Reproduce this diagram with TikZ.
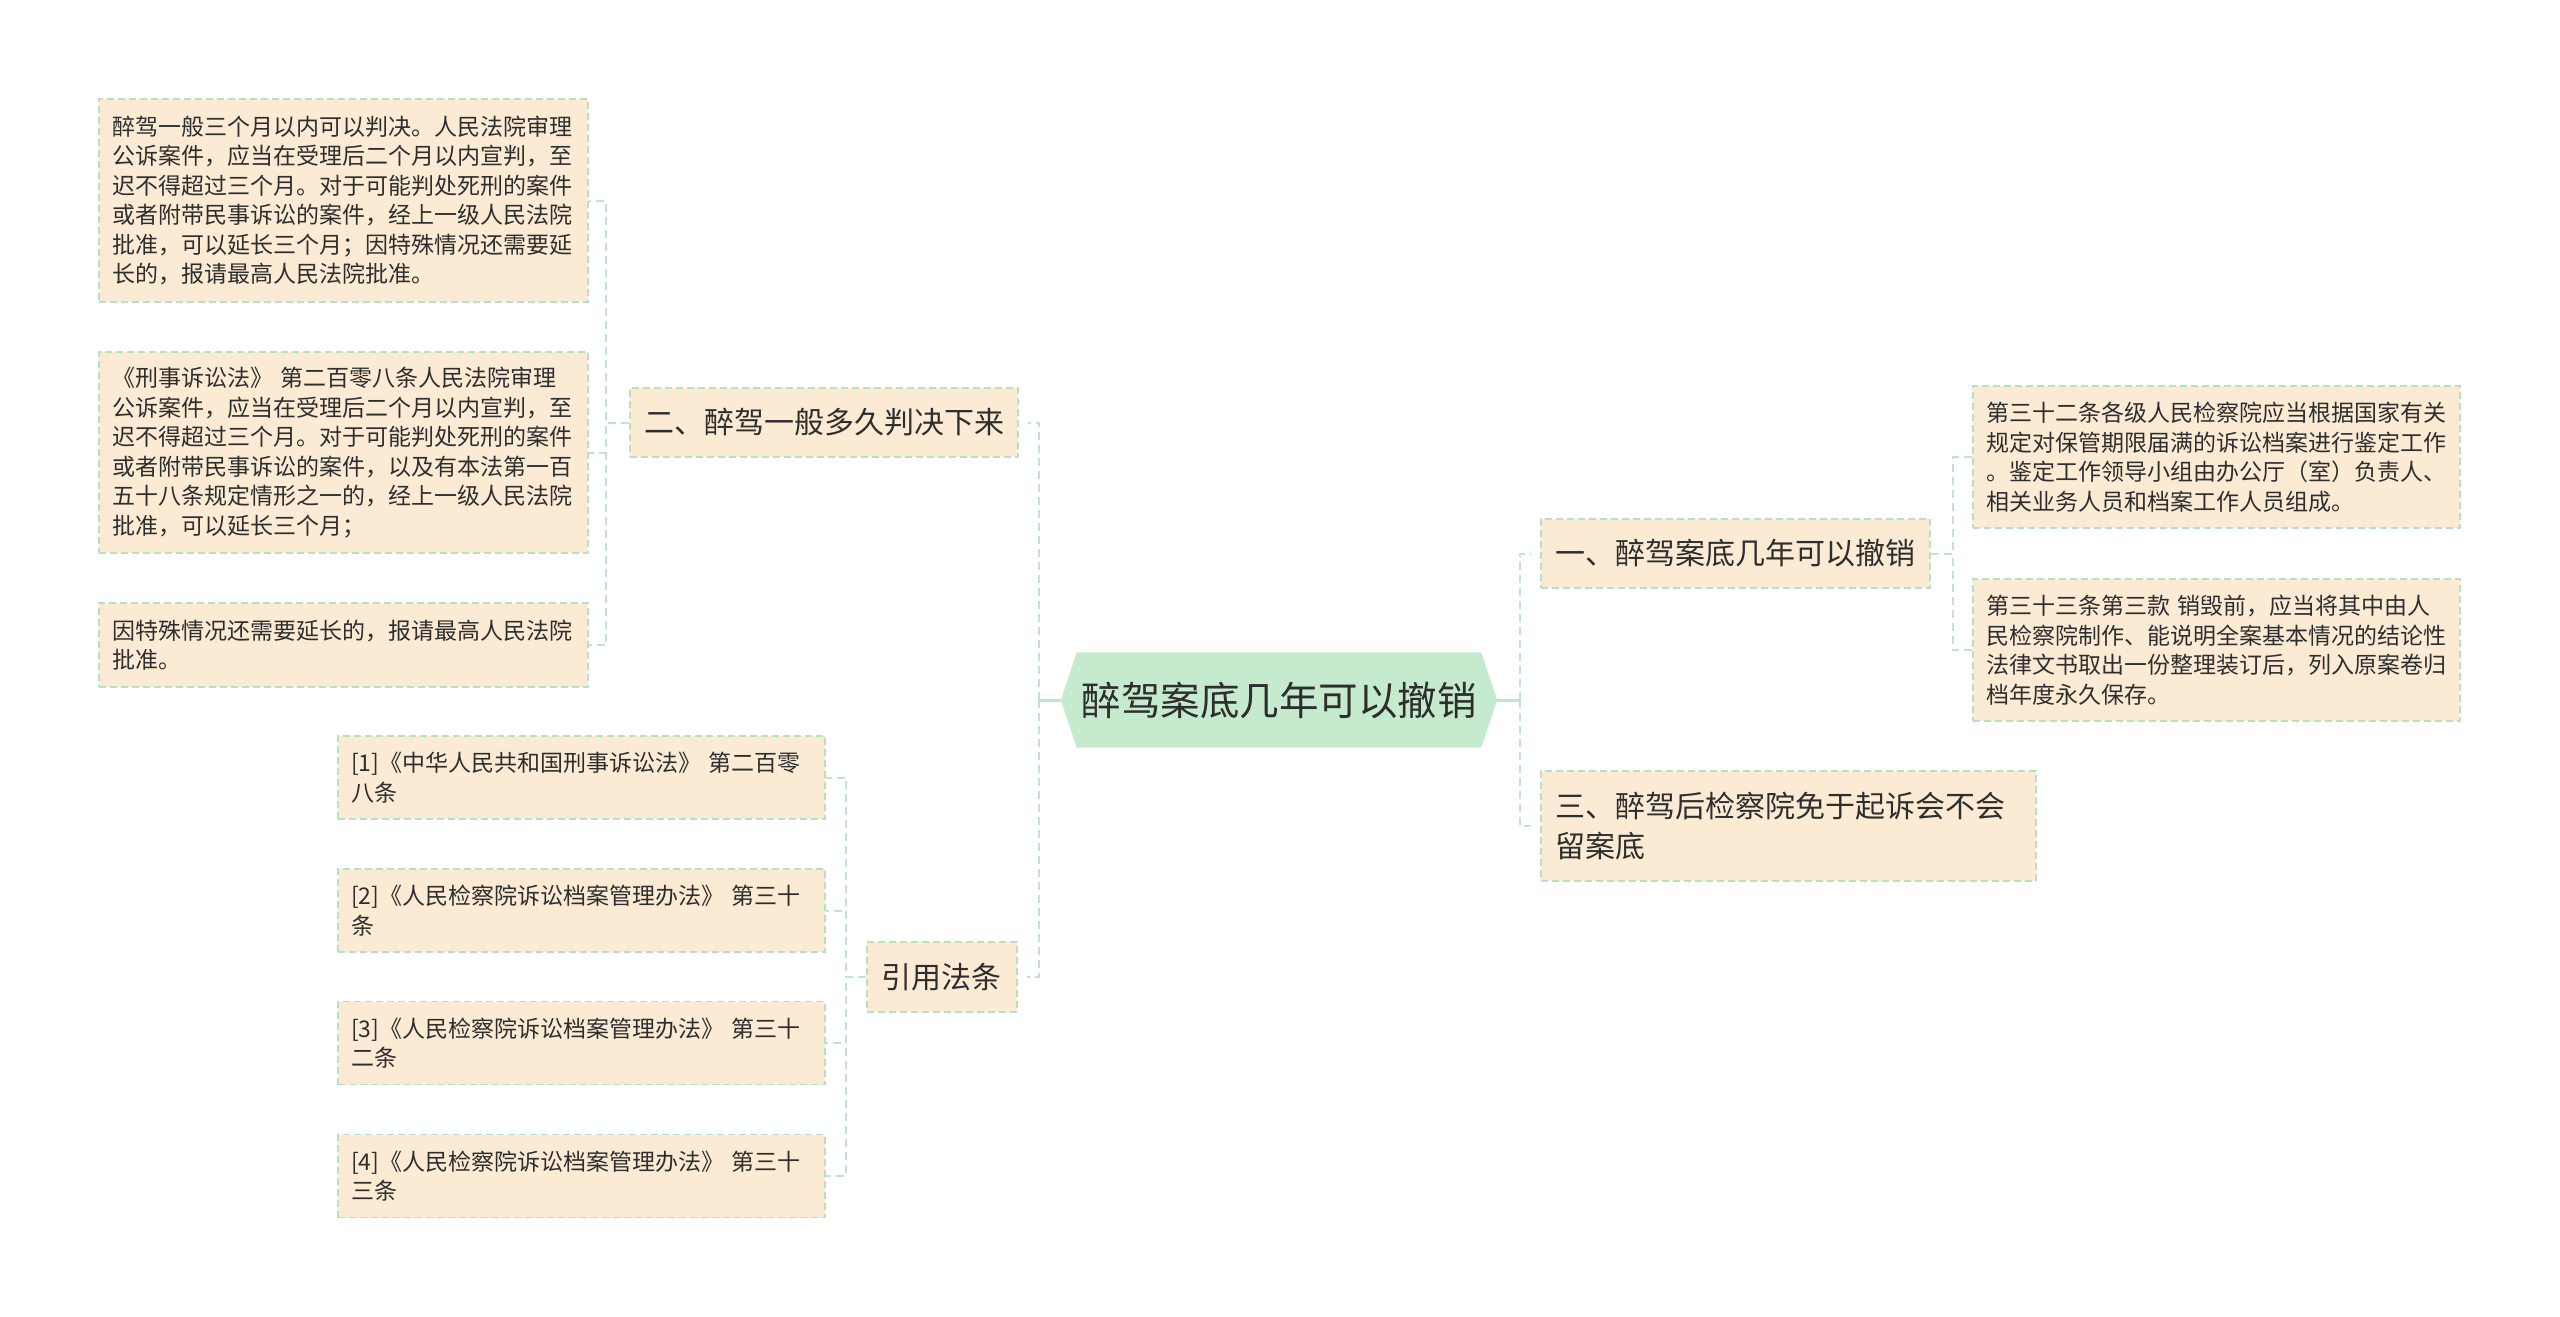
\documentclass[tikz,border=0pt]{standalone}
\usepackage{fontspec}
\setmainfont{Noto Sans CJK SC}
\usetikzlibrary{backgrounds,calc}
\definecolor{boxfill}{HTML}{FCEBD4}
\definecolor{boxline}{HTML}{B8E0C2}
\definecolor{conncol}{HTML}{BFE5CA}
\definecolor{hexfill}{HTML}{C6EACD}
\definecolor{txt}{HTML}{2E2E2E}
\begin{document}
\begin{tikzpicture}[x=1pt,y=-1pt,
  leaf/.style={rectangle, draw=boxline, fill=boxfill, line width=1.6pt,
    dash pattern=on 7pt off 4pt, inner xsep=13pt, inner ysep=0pt,
    align=left, text=txt, font=\fontsize{23}{29.5}\selectfont},
  mid/.style={rectangle, draw=boxline, fill=boxfill, line width=1.6pt,
    dash pattern=on 7pt off 4pt, inner xsep=14pt, inner ysep=0pt,
    align=left, text=txt, font=\fontsize{30}{40}\selectfont},
  rootnode/.style={rectangle, inner sep=0pt, text=txt,
    font=\fontsize{39.5}{48}\selectfont},
  conn/.style={draw=conncol, line width=2pt, dash pattern=on 8pt off 5pt},
  rootconn/.style={draw=conncol, line width=3pt}
]
\useasboundingbox (0,0) rectangle (2560,1317);

% root
\node[rootnode, minimum width=436pt, minimum height=95pt] (root) at (1279,700) {醉驾案底几年可以撤销};
\begin{scope}[on background layer]
\fill[hexfill] (root.west) -- ([xshift=16pt]root.north west) -- ([xshift=-16pt]root.north east)
  -- (root.east) -- ([xshift=-16pt]root.south east) -- ([xshift=16pt]root.south west) -- cycle;
\end{scope}

% first level
\node[mid, text width=360pt, minimum height=69pt] (n2) at (824,422.5) {二、醉驾一般多久判决下来};
\node[mid, text width=122pt, minimum height=70pt] (nY) at (942,977) {引用法条};
\node[mid, text width=361pt, minimum height=69pt] (n1) at (1735.5,553.5) {一、醉驾案底几年可以撤销};
\node[mid, text width=467pt, minimum height=110pt] (n3) at (1788.5,826) {三、醉驾后检察院免于起诉会不会\\留案底};

% leaves of 二
\node[leaf, text width=463pt, minimum height=203pt] (L1) at (343.5,200.5) {醉驾一般三个月以内可以判决。人民法院审理\\公诉案件，应当在受理后二个月以内宣判，至\\迟不得超过三个月。对于可能判处死刑的案件\\或者附带民事诉讼的案件，经上一级人民法院\\批准，可以延长三个月；因特殊情况还需要延\\长的，报请最高人民法院批准。};
\node[leaf, text width=463pt, minimum height=201pt] (L2) at (343.5,452.5) {《刑事诉讼法》~第二百零八条人民法院审理\\公诉案件，应当在受理后二个月以内宣判，至\\迟不得超过三个月。对于可能判处死刑的案件\\或者附带民事诉讼的案件，以及有本法第一百\\五十八条规定情形之一的，经上一级人民法院\\批准，可以延长三个月；};
\node[leaf, text width=463pt, minimum height=84pt] (L3) at (343.5,645) {因特殊情况还需要延长的，报请最高人民法院\\批准。};

% leaves of 引用法条
\node[leaf, text width=461pt, minimum height=83pt] (R1) at (581.5,777.5) {[1]《中华人民共和国刑事诉讼法》~第二百零\\八条};
\node[leaf, text width=461pt, minimum height=83pt] (R2) at (581.5,910.5) {[2]《人民检察院诉讼档案管理办法》~第三十\\条};
\node[leaf, text width=461pt, minimum height=83pt] (R3) at (581.5,1043) {[3]《人民检察院诉讼档案管理办法》~第三十\\二条};
\node[leaf, text width=461pt, minimum height=83pt] (R4) at (581.5,1176) {[4]《人民检察院诉讼档案管理办法》~第三十\\三条};

% leaves of 一
\node[leaf, text width=461pt, minimum height=142pt] (A) at (2216.5,457) {第三十二条各级人民检察院应当根据国家有关\\规定对保管期限届满的诉讼档案进行鉴定工作\\。鉴定工作领导小组由办公厅（室）负责人、\\相关业务人员和档案工作人员组成。};
\node[leaf, text width=461pt, minimum height=142pt] (B) at (2216.5,650) {第三十三条第三款~销毁前，应当将其中由人\\民检察院制作、能说明全案基本情况的结论性\\法律文书取出一份整理装订后，列入原案卷归\\档年度永久保存。};

% root connectors
\coordinate (hubL) at (1039,700);
\coordinate (hubR) at (1520,700);
\draw[rootconn] (root.west) -- (hubL);
\draw[rootconn] (root.east) -- (hubR);
\draw[conn, shorten >=9pt] (hubL) |- (n2.east);
\draw[conn, shorten >=9pt] (hubL) |- (nY.east);
\draw[conn, shorten >=9pt] (hubR) |- (n1.west);
\draw[conn, shorten >=9pt] (hubR) |- (n3.west);

% second level connectors
\draw[conn] (n2.west) -- ++(-23,0) |- (L1.east);
\draw[conn] (n2.west) -- ++(-23,0) |- (L2.east);
\draw[conn] (n2.west) -- ++(-23,0) |- (L3.east);
\draw[conn] (nY.west) -- ++(-20,0) |- (R1.east);
\draw[conn] (nY.west) -- ++(-20,0) |- (R2.east);
\draw[conn] (nY.west) -- ++(-20,0) |- (R3.east);
\draw[conn] (nY.west) -- ++(-20,0) |- (R4.east);
\draw[conn] (n1.east) -- ++(22,0) |- (A.west);
\draw[conn] (n1.east) -- ++(22,0) |- (B.west);
\end{tikzpicture}
\end{document}
